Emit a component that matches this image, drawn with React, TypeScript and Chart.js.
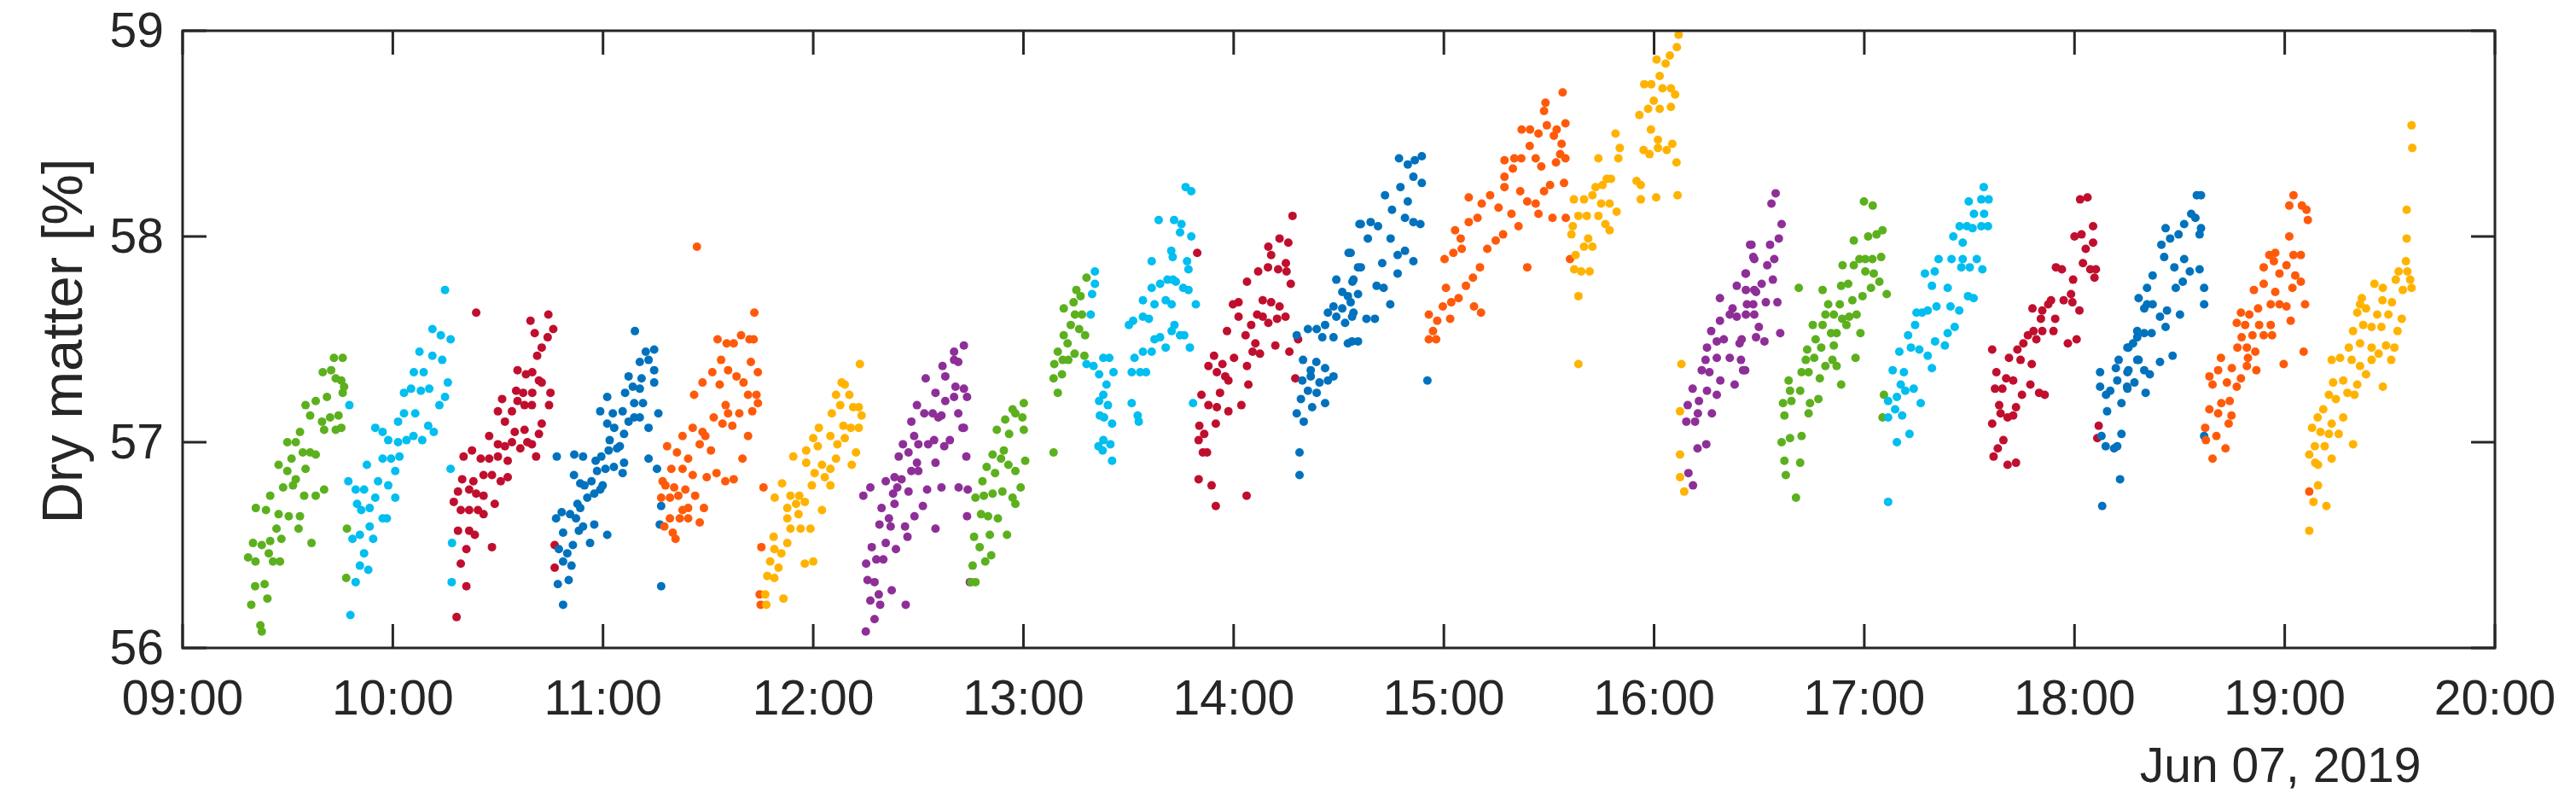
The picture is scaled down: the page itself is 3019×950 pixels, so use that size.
import React, { useEffect, useRef } from "react";
import { Chart, registerables } from "chart.js";

Chart.register(...registerables);

// x values are minutes after 09:00 on Jun 07, 2019; y values are dry matter [%]
const X_TICKS = [0, 60, 120, 180, 240, 300, 360, 420, 480, 540, 600, 660];
const X_TICK_LABELS = ["09:00", "10:00", "11:00", "12:00", "13:00", "14:00", "15:00", "16:00", "17:00", "18:00", "19:00", "20:00"];
const Y_TICKS = [56, 57, 58, 59];
const DATE_LABEL = "Jun 07, 2019";
const DATE_TICK = 600;
const Y_TITLE = "Dry matter [%]";

const C01: [number, number][] = [[22.6,56.08],[22.2,56.11],[19.6,56.21],[24.2,56.24],[20.7,56.30],[23.4,56.31],[18.7,56.44],[20.8,56.42],[24.6,56.46],[27.8,56.42],[25.8,56.42],[20.1,56.51],[22.6,56.50],[25.0,56.52],[28.2,56.53],[36.8,56.51],[26.8,56.58],[33.1,56.58],[20.9,56.68],[23.8,56.67],[27.4,56.65],[30.3,56.64],[33.5,56.64],[25.0,56.74],[28.7,56.78],[31.5,56.79],[34.7,56.74],[38.0,56.74],[40.4,56.77],[27.4,56.89],[29.9,56.86],[32.3,56.82],[35.1,56.87],[31.1,56.92],[34.3,56.95],[38.0,56.94],[29.9,57.00],[32.3,57.00],[33.5,57.05],[36.4,56.95],[40.4,57.06],[43.7,57.06],[45.3,57.07],[36.4,57.13],[39.8,57.10],[42.1,57.12],[44.5,57.13],[35.1,57.18],[38.0,57.20],[41.2,57.22],[45.7,57.24],[46.1,57.27],[40.0,57.34],[42.4,57.35],[43.7,57.31],[45.3,57.30],[43.2,57.41],[45.7,57.41],[46.7,56.34],[46.9,56.58]];
const C02: [number, number][] = [[47.9,56.16],[49.4,56.32],[50.6,56.40],[53.0,56.38],[51.8,56.46],[48.5,56.53],[50.6,56.55],[53.4,56.59],[54.4,56.53],[49.8,56.70],[51.0,56.67],[53.4,56.68],[55.0,56.73],[57.1,56.63],[58.3,56.63],[47.3,56.81],[49.4,56.77],[51.8,56.77],[55.8,56.81],[58.7,56.79],[60.7,56.73],[52.6,56.89],[57.1,56.92],[59.5,56.92],[61.9,56.93],[60.7,56.86],[55.0,57.07],[57.1,57.05],[58.7,57.01],[61.5,57.10],[61.5,57.00],[63.9,57.01],[65.9,57.03],[63.2,57.14],[66.4,57.14],[68.4,57.01],[70.1,57.08],[71.7,57.05],[63.2,57.24],[65.2,57.26],[68.0,57.25],[70.4,57.26],[66.0,57.34],[68.8,57.34],[73.3,57.18],[74.9,57.22],[75.7,57.29],[67.6,57.44],[71.3,57.42],[74.1,57.40],[71.3,57.55],[73.7,57.52],[76.5,57.50],[74.9,57.74],[76.5,56.87],[76.9,56.51],[76.8,56.32],[47.6,57.18]];
const C03: [number, number][] = [[78.2,56.15],[81.0,56.30],[79.4,56.41],[81.0,56.48],[78.6,56.57],[81.8,56.57],[83.4,56.55],[88.3,56.49],[77.4,56.71],[79.4,56.67],[81.8,56.67],[84.3,56.67],[85.9,56.65],[78.6,56.76],[81.8,56.77],[83.8,56.75],[85.9,56.74],[89.1,56.70],[79.8,56.82],[83.0,56.81],[85.9,56.84],[88.3,56.84],[90.8,56.81],[92.8,56.83],[80.2,56.93],[82.6,56.96],[85.1,56.92],[87.5,56.92],[90.0,56.93],[92.8,56.91],[87.5,57.03],[90.0,56.99],[92.0,56.98],[94.0,57.00],[96.4,56.97],[98.4,57.00],[100.9,56.93],[99.7,56.99],[90.0,57.15],[92.0,57.10],[94.0,57.15],[94.8,57.05],[97.6,57.06],[101.7,57.04],[91.2,57.21],[95.6,57.20],[97.6,57.18],[99.7,57.18],[102.5,57.09],[95.2,57.25],[97.2,57.24],[99.8,57.24],[102.5,57.29],[105.0,57.24],[104.6,57.18],[95.6,57.35],[98.0,57.33],[99.8,57.34],[101.7,57.30],[101.2,57.42],[102.5,57.46],[104.2,57.51],[105.8,57.55],[100.5,57.53],[99.3,57.59],[104.4,57.62],[83.8,57.63],[106.2,56.50],[106.2,56.39]];
const C04: [number, number][] = [[108.6,56.21],[107.1,56.31],[110.2,56.33],[108.6,56.42],[111.0,56.40],[107.4,56.48],[109.8,56.46],[111.4,56.50],[108.6,56.56],[106.6,56.63],[108.2,56.66],[110.6,56.65],[112.3,56.63],[112.7,56.70],[106.8,56.93],[111.8,56.94],[111.7,56.84],[113.5,56.80],[113.1,56.57],[116.3,56.51],[121.2,56.55],[114.3,56.59],[117.5,56.60],[113.5,56.68],[115.5,56.73],[114.7,56.79],[117.5,56.75],[119.2,56.77],[116.7,56.81],[119.9,56.79],[118.3,56.86],[120.7,56.87],[123.1,56.88],[125.6,56.85],[117.9,56.91],[119.5,56.93],[126.0,56.90],[114.3,56.93],[121.6,56.96],[124.0,56.97],[121.9,57.01],[124.8,56.98],[121.2,57.09],[123.2,57.07],[126.0,57.04],[127.3,57.10],[128.9,57.12],[130.5,57.12],[133.0,57.07],[133.0,56.92],[135.4,56.87],[135.8,57.14],[119.2,57.15],[122.8,57.14],[125.6,57.15],[121.2,57.22],[126.3,57.24],[128.9,57.19],[131.4,57.19],[128.5,57.27],[130.5,57.26],[127.3,57.32],[131.0,57.31],[134.6,57.29],[134.6,57.35],[133.0,57.40],[130.5,57.39],[132.2,57.44],[134.6,57.45],[129.1,57.54],[136.6,56.30],[136.6,56.69],[136.2,56.60]];
const C05: [number, number][] = [[140.7,56.53],[139.9,56.56],[137.5,56.59],[139.1,56.63],[141.9,56.63],[142.7,56.67],[144.3,56.63],[147.6,56.61],[144.3,56.68],[136.6,56.73],[139.1,56.73],[141.5,56.74],[146.3,56.74],[148.8,56.68],[137.8,56.79],[140.3,56.78],[143.5,56.77],[137.0,56.81],[139.5,56.87],[142.7,56.87],[145.6,56.84],[149.6,56.83],[152.4,56.85],[154.9,56.81],[157.3,56.82],[138.3,56.98],[141.1,56.95],[144.3,56.92],[142.7,57.03],[145.6,57.07],[147.6,56.99],[149.2,57.03],[150.8,56.96],[159.8,56.92],[148.4,57.05],[151.6,57.12],[154.1,57.09],[156.9,57.08],[155.7,57.14],[158.9,57.14],[161.4,57.03],[155.0,57.18],[162.6,57.15],[146.0,57.23],[148.4,57.29],[153.3,57.28],[151.2,57.34],[153.7,57.40],[155.7,57.35],[158.1,57.32],[160.1,57.29],[161.4,57.23],[163.8,57.23],[164.2,57.19],[162.2,57.39],[164.2,57.34],[155.3,57.48],[157.3,57.48],[152.7,57.50],[159.4,57.52],[161.8,57.50],[163.0,57.50],[163.2,57.63],[146.8,57.95],[165.8,56.78],[165.2,56.49],[164.7,56.26],[165.0,56.21]];
const C06: [number, number][] = [[166.6,56.21],[166.3,56.26],[171.5,56.24],[166.9,56.35],[168.9,56.34],[167.7,56.42],[170.1,56.39],[170.9,56.46],[168.9,56.48],[172.6,56.51],[177.6,56.41],[180.0,56.42],[168.7,56.54],[173.5,56.58],[176.4,56.58],[179.2,56.58],[172.6,56.63],[175.8,56.65],[172.6,56.68],[175.1,56.70],[177.6,56.71],[182.5,56.67],[169.0,56.73],[171.1,56.80],[173.5,56.74],[176.0,56.74],[179.6,56.79],[178.0,56.90],[180.4,56.85],[183.3,56.83],[184.9,56.79],[174.3,56.93],[178.0,56.96],[181.3,56.98],[182.5,56.89],[184.9,56.87],[186.5,56.92],[180.0,57.02],[181.6,57.07],[184.9,57.03],[186.9,56.99],[191.0,56.89],[192.2,56.95],[189.0,57.02],[188.6,57.08],[190.7,57.07],[185.3,57.14],[187.7,57.18],[190.3,57.23],[193.0,57.07],[193.8,57.13],[193.0,57.17],[191.4,57.17],[186.5,57.23],[189.0,57.28],[188.1,57.29],[193.3,57.38]];
const C07: [number, number][] = [[195.0,56.08],[197.5,56.14],[196.3,56.23],[199.1,56.21],[206.4,56.21],[198.7,56.26],[202.4,56.28],[195.5,56.33],[197.5,56.32],[195.1,56.41],[198.0,56.43],[200.0,56.43],[203.6,56.48],[196.7,56.49],[200.7,56.51],[206.9,56.54],[198.9,56.60],[202.1,56.59],[206.2,56.59],[214.9,56.58],[199.5,56.68],[201.6,56.63],[203.2,56.70],[208.9,56.64],[211.3,56.69],[202.8,56.75],[204.0,56.78],[207.2,56.76],[194.3,56.74],[196.3,56.78],[200.7,56.81],[203.2,56.83],[205.2,56.82],[208.0,56.86],[210.0,56.86],[212.5,56.77],[216.6,56.78],[221.5,56.78],[223.9,56.64],[224.7,56.32],[209.6,56.90],[214.9,56.90],[204.4,56.93],[207.2,56.95],[205.6,56.99],[210.0,56.99],[212.8,56.99],[214.5,57.01],[208.8,57.03],[217.4,56.98],[219.0,57.01],[223.7,56.93],[208.0,57.10],[215.7,57.12],[221.4,57.14],[223.0,57.07],[209.6,57.18],[211.7,57.14],[214.1,57.14],[216.6,57.13],[212.1,57.31],[214.9,57.24],[217.7,57.20],[220.2,57.22],[223.9,57.22],[220.6,57.27],[223.0,57.26],[217.7,57.32],[216.9,57.37],[220.2,57.40],[220.2,57.44],[223.0,57.47],[221.4,57.39],[222.6,57.07],[224.1,56.77]];
const C08: [number, number][] = [[226.3,56.32],[225.1,56.32],[225.5,56.40],[229.1,56.42],[230.8,56.45],[227.5,56.49],[225.9,56.54],[230.4,56.55],[235.3,56.55],[227.9,56.65],[229.9,56.64],[232.7,56.63],[226.3,56.73],[228.7,56.74],[231.2,56.75],[234.0,56.76],[236.9,56.73],[237.7,56.70],[228.3,56.81],[239.2,56.78],[229.5,56.88],[231.9,56.85],[231.2,56.94],[233.6,56.92],[235.7,56.89],[237.7,56.86],[240.5,56.91],[234.4,56.96],[232.4,57.06],[235.9,57.04],[240.1,57.06],[234.8,57.11],[237.7,57.14],[239.7,57.12],[236.9,57.16],[240.1,57.19],[248.6,56.95],[249.8,57.24],[248.6,57.31],[251.0,57.33],[248.8,57.38],[251.2,57.40],[252.8,57.40],[249.8,57.44],[252.6,57.48],[254.6,57.43],[257.4,57.42],[251.5,57.52],[253.5,57.57],[255.9,57.55],[257.6,57.52],[251.5,57.65],[254.7,57.62],[256.7,57.62],[254.3,57.68],[256.3,57.71],[255.1,57.74],[258.0,57.80]];
const C09: [number, number][] = [[260.4,57.83],[260.4,57.77],[259.6,57.72],[259.2,57.62],[258.0,57.38],[260.0,57.37],[262.8,57.41],[264.5,57.41],[261.6,57.33],[265.7,57.34],[263.7,57.28],[262.8,57.23],[261.6,57.20],[264.1,57.18],[263.0,57.12],[261.8,57.13],[265.3,57.09],[262.8,57.01],[264.8,56.99],[261.4,56.98],[262.6,56.96],[265.3,56.91],[270.9,57.19],[272.6,57.13],[272.9,57.10],[270.9,57.34],[273.3,57.34],[275.0,57.34],[271.7,57.41],[274.1,57.44],[276.6,57.44],[270.1,57.57],[271.3,57.59],[274.1,57.61],[275.8,57.60],[277.4,57.50],[279.0,57.51],[280.6,57.46],[282.3,57.54],[283.1,57.57],[284.7,57.52],[285.9,57.52],[287.5,57.46],[274.1,57.69],[277.4,57.67],[280.6,57.69],[282.3,57.67],[276.6,57.75],[279.0,57.77],[281.1,57.79],[283.5,57.78],[285.6,57.75],[287.1,57.74],[282.7,57.79],[289.2,57.67],[276.6,57.88],[282.6,57.90],[286.7,57.88],[287.1,57.84],[282.2,57.93],[278.6,58.08],[283.0,58.08],[285.1,58.06],[284.7,58.02],[287.9,58.00],[286.3,58.24],[287.9,58.22],[288.4,57.19]];
const C10: [number, number][] = [[294.9,56.69],[293.7,56.79],[290.0,56.82],[303.7,56.74],[291.2,56.95],[292.4,56.95],[290.0,57.01],[291.6,57.04],[290.2,57.08],[294.9,57.09],[290.8,57.23],[292.8,57.18],[295.2,57.17],[298.5,57.15],[302.2,57.18],[296.1,57.24],[292.8,57.37],[295.2,57.34],[297.6,57.32],[294.4,57.42],[296.8,57.38],[298.5,57.30],[300.1,57.41],[303.8,57.37],[304.2,57.28],[305.4,57.44],[307.5,57.43],[306.2,57.48],[311.9,57.47],[315.9,57.44],[317.6,57.31],[318.4,57.50],[298.1,57.54],[301.4,57.61],[303.4,57.52],[305.0,57.57],[299.8,57.67],[301.4,57.68],[306.7,57.62],[308.3,57.61],[309.9,57.58],[312.4,57.60],[314.8,57.61],[308.3,57.69],[310.7,57.68],[313.1,57.66],[303.8,57.78],[307.0,57.83],[309.8,57.85],[312.7,57.84],[315.1,57.83],[316.3,57.77],[310.7,57.91],[314.9,57.87],[309.9,57.95],[313.1,57.99],[315.6,57.97],[316.8,58.10],[289.6,57.92]];
const C11: [number, number][] = [[318.8,56.84],[318.8,56.95],[318.0,57.14],[320.0,57.10],[319.2,57.21],[321.2,57.25],[322.4,57.17],[323.7,57.24],[319.6,57.30],[322.0,57.32],[324.5,57.29],[326.1,57.19],[326.9,57.30],[319.8,57.40],[322.0,57.35],[323.6,57.39],[326.1,57.36],[328.5,57.32],[318.0,57.52],[321.2,57.55],[323.7,57.55],[326.1,57.57],[328.5,57.51],[325.3,57.51],[326.9,57.63],[329.3,57.61],[331.8,57.58],[328.5,57.66],[331.0,57.65],[333.8,57.61],[331.0,57.73],[332.6,57.71],[329.3,57.79],[333.9,57.78],[335.5,57.85],[332.8,57.92],[335.9,58.06],[335.5,57.49],[332.6,57.48],[333.8,57.49],[337.9,57.60],[340.3,57.60],[334.2,57.63],[333.4,57.68],[335.5,57.72],[340.8,57.76],[342.8,57.75],[344.7,57.67],[334.2,57.79],[336.3,57.85],[333.4,57.92],[342.4,57.87],[346.8,57.82],[346.8,57.91],[348.9,57.93],[351.3,57.88],[338.3,57.99],[344.8,57.99],[336.3,58.06],[339.1,58.07],[341.2,58.05],[345.2,58.13],[349.7,58.17],[348.9,58.09],[351.3,58.07],[353.3,58.06],[343.2,58.20],[347.6,58.24],[351.3,58.29],[353.7,58.26],[347.2,58.38],[349.7,58.35],[351.7,58.37],[353.7,58.39],[355.3,57.30]];
const C12: [number, number][] = [[355.7,57.50],[357.8,57.50],[356.9,57.54],[355.7,57.62],[358.1,57.59],[361.8,57.60],[359.7,57.66],[362.1,57.68],[364.2,57.70],[368.6,57.66],[370.6,57.63],[360.6,57.75],[366.3,57.76],[368.3,57.80],[370.3,57.85],[372.4,57.94],[360.2,57.89],[362.7,57.92],[365.1,57.94],[364.8,57.99],[363.2,58.03],[367.1,58.07],[369.6,58.09],[374.8,57.98],[376.9,58.01],[381.3,58.05],[379.3,58.11],[383.8,57.85],[367.1,58.19],[370.8,58.16],[373.2,58.20],[375.6,58.14],[377.3,58.24],[381.8,58.22],[383.8,58.17],[386.2,58.16],[387.0,58.11],[388.6,58.22],[391.0,58.09],[390.3,58.25],[394.3,58.26],[394.8,58.09],[377.3,58.29],[379.7,58.33],[377.3,58.37],[380.1,58.38],[382.1,58.38],[384.5,58.44],[386.2,58.38],[387.8,58.34],[392.0,58.36],[394.7,58.38],[393.2,58.40],[393.6,58.45],[382.2,58.52],[384.6,58.52],[387.0,58.50],[389.4,58.54],[391.4,58.49],[394.7,58.55],[392.2,58.52],[388.6,58.61],[389.0,58.65],[393.9,58.70],[396.0,57.89]];
const C13: [number, number][] = [[398.4,57.38],[398.4,57.71],[397.2,57.84],[399.2,57.83],[401.6,57.83],[397.6,57.91],[400.0,57.95],[402.4,57.95],[401.2,57.99],[396.4,58.01],[396.8,58.05],[398.4,58.10],[400.8,58.10],[404.1,58.10],[406.1,58.06],[407.3,58.03],[409.3,58.12],[404.9,58.16],[407.3,58.16],[397.1,58.18],[400.0,58.18],[402.4,58.20],[403.3,58.24],[405.3,58.25],[406.5,58.28],[407.7,58.28],[404.1,58.38],[409.8,58.38],[410.2,58.43],[409.0,58.50],[415.0,58.27],[416.2,58.18],[420.6,58.19],[426.7,58.20],[416.2,58.25],[417.0,58.42],[418.7,58.40],[421.1,58.43],[423.6,58.42],[425.2,58.45],[426.4,58.36],[421.1,58.47],[419.1,58.52],[415.8,58.59],[418.3,58.62],[421.6,58.62],[424.8,58.63],[419.9,58.66],[417.2,58.74],[419.2,58.74],[422.4,58.72],[424.8,58.72],[426.0,58.69],[421.6,58.78],[423.3,58.84],[420.7,58.86],[424.5,58.88],[426.5,58.92],[427.0,58.98],[427.8,57.38],[427.4,57.15],[427.4,56.94],[427.4,56.83],[428.6,56.76]];
const C14: [number, number][] = [[431.1,56.79],[429.8,56.85],[432.4,56.97],[434.9,56.99],[429.2,57.10],[431.7,57.10],[432.5,57.14],[436.5,57.14],[429.6,57.18],[432.8,57.20],[431.0,57.26],[435.1,57.25],[437.9,57.23],[433.6,57.35],[435.8,57.34],[438.9,57.30],[443.0,57.28],[434.7,57.40],[437.9,57.41],[441.6,57.41],[444.8,57.40],[446.0,57.35],[435.1,57.46],[437.9,57.49],[439.9,57.50],[444.4,57.48],[436.3,57.54],[438.8,57.59],[441.6,57.62],[443.6,57.61],[438.8,57.70],[442.4,57.65],[443.6,57.76],[446.5,57.67],[446.1,57.82],[448.6,57.89],[447.8,57.96],[448.6,57.74],[448.6,57.62],[445.4,57.35],[445.0,57.50],[449.1,57.51],[451.5,57.49],[449.9,57.56],[456.0,57.53],[446.2,57.62],[448.3,57.67],[451.9,57.68],[455.2,57.68],[446.2,57.74],[449.1,57.73],[450.7,57.77],[453.9,57.79],[446.2,57.82],[448.3,57.90],[452.3,57.86],[454.3,57.89],[447.4,57.96],[453.1,57.96],[455.6,57.99],[456.4,58.06],[453.5,58.16],[454.7,58.21]];
const C15: [number, number][] = [[460.5,56.73],[457.6,56.84],[457.2,56.91],[461.7,56.90],[456.4,57.00],[458.8,57.02],[462.1,57.03],[464.1,57.14],[457.2,57.13],[456.8,57.19],[459.2,57.20],[464.5,57.19],[466.9,57.21],[458.8,57.25],[461.7,57.25],[473.4,57.28],[458.4,57.30],[462.1,57.34],[464.1,57.34],[467.3,57.31],[463.3,57.40],[465.7,57.41],[468.9,57.37],[470.9,57.40],[472.1,57.37],[477.5,57.41],[463.7,57.45],[466.1,57.50],[467.7,57.46],[471.3,57.47],[465.3,57.57],[468.1,57.57],[470.5,57.53],[472.1,57.53],[474.9,57.57],[478.9,57.53],[468.9,57.62],[471.3,57.62],[473.7,57.60],[475.7,57.61],[469.7,57.67],[473.0,57.67],[476.6,57.69],[477.8,57.62],[461.3,57.75],[468.1,57.74],[473.4,57.76],[475.4,57.77],[479.5,57.71],[481.9,57.75],[484.3,57.78],[486.4,57.72],[473.8,57.86],[477.0,57.86],[480.3,57.83],[482.7,57.82],[478.6,57.89],[480.3,57.89],[482.3,57.89],[484.8,57.90],[477.0,57.98],[481.1,58.00],[483.5,58.01],[485.2,58.03],[479.9,58.17],[482.4,58.15],[485.6,57.23],[485.2,57.12]];
const C16: [number, number][] = [[486.8,56.71],[489.3,57.00],[492.9,57.04],[486.8,57.12],[488.8,57.16],[490.8,57.13],[486.8,57.20],[489.3,57.22],[491.7,57.25],[494.1,57.26],[496.1,57.19],[490.4,57.28],[488.1,57.35],[491.3,57.34],[499.3,57.36],[490.0,57.44],[493.3,57.46],[495.7,57.45],[498.1,57.42],[500.2,57.49],[503.0,57.47],[492.5,57.52],[503.8,57.53],[505.8,57.56],[494.5,57.57],[496.5,57.63],[498.1,57.64],[500.6,57.66],[494.9,57.63],[504.6,57.66],[507.1,57.64],[509.6,57.71],[511.2,57.70],[499.3,57.76],[503.8,57.75],[497.3,57.82],[500.1,57.83],[501.2,57.89],[504.9,57.89],[508.1,57.89],[507.7,57.85],[510.1,57.85],[512.1,57.89],[513.7,57.84],[505.4,58.00],[508.1,57.97],[507.2,58.05],[509.3,58.05],[510.9,58.04],[511.3,58.11],[514.2,58.11],[513.4,58.05],[515.3,58.05],[509.8,58.17],[513.4,58.18],[515.5,58.18],[514.1,58.24]];
const C17: [number, number][] = [[516.9,56.93],[518.1,56.97],[519.7,57.01],[520.9,56.89],[523.3,56.90],[516.5,57.09],[518.9,57.14],[520.9,57.12],[522.5,57.13],[518.5,57.18],[523.3,57.17],[517.3,57.26],[519.4,57.26],[525.0,57.23],[527.4,57.28],[529.9,57.24],[531.5,57.23],[517.7,57.34],[520.5,57.31],[522.5,57.30],[521.3,57.41],[524.6,57.40],[527.8,57.38],[523.7,57.45],[526.7,57.52],[529.1,57.50],[516.5,57.45],[525.4,57.48],[528.3,57.54],[530.8,57.54],[534.0,57.54],[538.1,57.48],[540.6,57.50],[528.0,57.65],[530.8,57.64],[532.5,57.67],[534.5,57.60],[530.4,57.60],[533.3,57.69],[536.9,57.69],[539.4,57.68],[541.4,57.64],[539.0,57.72],[534.7,57.85],[536.4,57.84],[539.6,57.79],[542.4,57.87],[544.5,57.84],[545.7,57.80],[546.1,57.84],[543.2,57.94],[545.3,57.97],[540.0,58.00],[542.0,58.01],[545.3,58.05],[541.6,58.18],[543.7,58.19],[546.9,57.08],[546.5,57.02]];
const C18: [number, number][] = [[547.9,56.69],[553.0,56.82],[548.9,56.98],[551.3,56.97],[553.4,57.04],[547.7,57.03],[549.3,57.15],[553.4,57.19],[547.3,57.27],[550.2,57.25],[549.0,57.23],[552.2,57.30],[555.1,57.26],[557.1,57.29],[547.3,57.34],[551.8,57.36],[555.1,57.34],[558.3,57.40],[559.9,57.35],[560.3,57.24],[552.6,57.40],[555.1,57.46],[556.7,57.48],[557.9,57.54],[559.9,57.53],[558.3,57.70],[560.7,57.67],[560.7,57.75],[552.2,56.98],[555.0,57.27],[555.4,57.35],[557.9,57.40],[561.5,57.33],[555.4,57.46],[557.9,57.51],[562.0,57.53],[564.4,57.39],[568.0,57.42],[559.9,57.65],[562.3,57.67],[564.4,57.61],[566.0,57.56],[566.4,57.64],[570.1,57.62],[562.3,57.81],[568.9,57.75],[570.9,57.78],[572.9,57.83],[575.7,57.84],[568.5,57.85],[565.6,57.90],[571.3,57.89],[577.0,57.75],[577.0,57.67],[564.8,57.96],[567.3,57.99],[569.7,58.01],[571.3,58.06],[566.0,58.04],[575.7,58.01],[576.1,58.04],[573.3,58.11],[574.5,58.09],[574.9,58.20],[576.1,58.20],[577.0,57.03]];
const C19: [number, number][] = [[579.4,56.92],[583.1,56.97],[577.5,57.01],[580.5,57.03],[577.3,57.07],[584.0,57.09],[578.5,57.16],[581.0,57.14],[584.8,57.13],[581.9,57.19],[584.3,57.20],[579.4,57.28],[583.5,57.29],[586.3,57.27],[587.5,57.31],[578.5,57.32],[581.0,57.35],[584.9,57.36],[589.2,57.37],[591.9,57.35],[581.8,57.41],[589.5,57.41],[586.5,57.46],[589.2,57.46],[591.6,57.44],[587.7,57.51],[590.8,57.52],[594.0,57.52],[596.4,57.52],[586.3,57.58],[588.7,57.57],[592.7,57.57],[596.0,57.57],[599.7,57.38],[605.4,57.44],[601.7,57.59],[587.5,57.63],[589.9,57.62],[592.4,57.65],[596.0,57.67],[598.5,57.67],[600.5,57.66],[605.8,57.67],[591.2,57.74],[594.0,57.77],[597.3,57.73],[602.2,57.75],[604.6,57.78],[594.0,57.85],[596.9,57.88],[598.5,57.82],[600.5,57.86],[603.0,57.81],[595.6,57.91],[597.3,57.92],[602.5,57.91],[604.6,57.91],[601.3,58.00],[601.3,58.15],[602.5,58.20],[604.9,58.15],[606.2,58.13],[606.6,58.08],[607.0,56.76]];
const C20: [number, number][] = [[607.0,56.57],[608.2,56.71],[611.9,56.69],[609.5,56.79],[608.7,56.90],[609.5,56.89],[607.0,56.94],[608.6,56.98],[611.4,56.98],[613.4,56.92],[607.8,57.07],[610.2,57.05],[612.6,57.04],[615.4,57.04],[619.5,56.99],[609.4,57.12],[613.4,57.09],[616.7,57.12],[611.0,57.16],[612.6,57.23],[614.6,57.21],[617.9,57.24],[619.9,57.23],[613.8,57.29],[616.7,57.30],[620.7,57.28],[623.2,57.33],[628.0,57.27],[613.4,57.40],[615.8,57.41],[619.1,57.40],[621.5,57.37],[624.8,57.40],[626.8,57.43],[630.4,57.40],[618.3,57.46],[621.5,57.48],[624.8,57.46],[628.9,57.47],[631.3,57.46],[619.5,57.54],[622.4,57.57],[624.8,57.56],[627.6,57.56],[632.2,57.54],[620.7,57.63],[623.2,57.65],[626.4,57.62],[629.6,57.62],[633.4,57.60],[621.5,57.67],[622.0,57.70],[627.9,57.69],[630.6,57.68],[625.6,57.77],[628.0,57.75],[633.7,57.74],[636.2,57.75],[631.7,57.79],[635.8,57.79],[632.5,57.83],[635.0,57.83],[634.6,57.88],[634.8,57.99],[634.8,58.13],[636.4,58.43],[636.2,58.54]];

const SERIES = [C01, C02, C03, C04, C05, C06, C07, C08, C09, C10, C11, C12, C13, C14, C15, C16, C17, C18, C19, C20];

// MATLAB-like colour order, starting at green
const PALETTE = ["#5cb01e", "#00bef0", "#c00f2e", "#0072bd", "#ff5a0a", "#ffb300", "#8e2f98"];
const INK = "#262626";
const FONT = "'Liberation Sans', Arial, Helvetica, sans-serif";

export default function App() {
  const ref = useRef<HTMLCanvasElement | null>(null);

  useEffect(() => {
    document.body.style.margin = "0";
    const canvas = ref.current;
    if (!canvas) return;

    const frame = {
      id: "matlabFrame",
      afterDraw(chart: any) {
        const { ctx, chartArea } = chart;
        const xs = chart.scales.x;
        const ys = chart.scales.y;
        const { left, right, top, bottom } = chartArea;
        const tick = 28;
        ctx.save();
        ctx.strokeStyle = INK;
        ctx.lineWidth = 3;
        ctx.lineCap = "butt";
        ctx.beginPath();
        for (const v of X_TICKS) {
          const px = xs.getPixelForValue(v);
          ctx.moveTo(px, bottom);
          ctx.lineTo(px, bottom - tick);
          ctx.moveTo(px, top);
          ctx.lineTo(px, top + tick);
        }
        for (const v of Y_TICKS) {
          const py = ys.getPixelForValue(v);
          ctx.moveTo(left, py);
          ctx.lineTo(left + tick, py);
          ctx.moveTo(right, py);
          ctx.lineTo(right - tick, py);
        }
        ctx.stroke();
        ctx.strokeRect(left, top, right - left, bottom - top);

        ctx.fillStyle = INK;
        ctx.font = `57px ${FONT}`;
        ctx.textAlign = "center";
        ctx.textBaseline = "middle";
        X_TICKS.forEach((v, i) => {
          ctx.fillText(X_TICK_LABELS[i], xs.getPixelForValue(v), bottom + 62);
        });
        ctx.textAlign = "right";
        for (const v of Y_TICKS) {
          ctx.fillText(String(v), left - 22, ys.getPixelForValue(v) + 3);
        }
        ctx.textAlign = "center";
        ctx.fillText(DATE_LABEL, xs.getPixelForValue(DATE_TICK) - 5, bottom + 141);

        ctx.font = `67px ${FONT}`;
        ctx.translate(left - 118, (top + bottom) / 2 + 2);
        ctx.rotate(-Math.PI / 2);
        ctx.textAlign = "center";
        ctx.textBaseline = "alphabetic";
        ctx.fillText(Y_TITLE, 0, 0);
        ctx.restore();
      },
    };

    const chart = new Chart(canvas, {
      type: "scatter",
      data: {
        datasets: SERIES.map((pts, i) => ({
          label: `cycle ${i + 1}`,
          data: pts.map(([x, y]) => ({ x, y })),
          backgroundColor: PALETTE[i % PALETTE.length],
          borderWidth: 0,
          pointRadius: 5,
          pointHoverRadius: 5,
          order: SERIES.length - i,
        })),
      },
      options: {
        responsive: false,
        animation: false,
        devicePixelRatio: 1,
        layout: { padding: { left: 214, right: 95, top: 36, bottom: 191 } },
        plugins: { legend: { display: false }, tooltip: { enabled: false } },
        scales: {
          x: { type: "linear", display: false, min: X_TICKS[0], max: X_TICKS[X_TICKS.length - 1] },
          y: { type: "linear", display: false, min: Y_TICKS[0], max: Y_TICKS[Y_TICKS.length - 1] },
        },
      },
      plugins: [frame],
    });
    return () => chart.destroy();
  }, []);

  return (
    <div style={{ width: 3019, height: 950, background: "#ffffff" }}>
      <canvas ref={ref} width={3019} height={950} style={{ display: "block" }} />
    </div>
  );
}
